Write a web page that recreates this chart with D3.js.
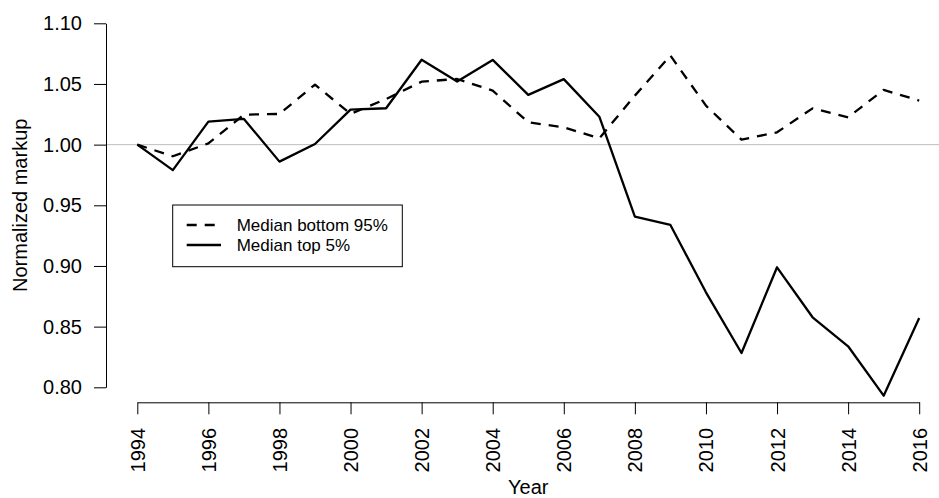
<!DOCTYPE html>
<html><head><meta charset="utf-8">
<script src="https://cdn.jsdelivr.net/npm/d3@7"></script>
<style>body{margin:0;background:#fff}svg{display:block;font-family:"Liberation Sans",Arial,sans-serif}</style>
</head><body>
<svg id="c" width="939" height="498"></svg>
<script>
const years = d3.range(1994, 2017);
const bottom95 = [1.000,0.9904,1.001,1.0247,1.0253,1.0495,1.0253,1.0376,1.0519,1.0541,1.0445,1.0184,1.0143,1.0052,1.0404,1.0734,1.0321,1.0041,1.0102,1.0299,1.0225,1.0451,1.0363];
const top5 = [1.000,0.979,1.019,1.0212,0.986,1.0005,1.0288,1.030,1.070,1.052,1.0698,1.041,1.054,1.023,0.9407,0.9338,0.8783,0.8283,0.8989,0.8577,0.8338,0.7931,0.8571];
const xTicks = d3.range(1994, 2017, 2);
const yTicks = [0.80,0.85,0.90,0.95,1.00,1.05,1.10];
const legendLabels = ["Median bottom 95%", "Median top 5%"];

const svg = d3.select("#c");
const x = d3.scaleLinear().domain([1994, 2016]).range([137.3, 919.2]);
const y = d3.scaleLinear().domain([0.80, 1.10]).range([387.3, 23.3]);

// reference line
svg.append("line").attr("x1", 106).attr("x2", 939).attr("y1", y(1)).attr("y2", y(1))
  .attr("stroke", "#bebebe").attr("stroke-width", 1);

// axes
const yAxis = d3.axisLeft(y).tickValues(yTicks).tickFormat(d3.format(".2f")).tickSize(12).tickSizeOuter(0).tickPadding(12);
const gy = svg.append("g").attr("transform", "translate(106,0)").call(yAxis);
gy.selectAll("text").attr("font-size", 20).attr("font-family", "Liberation Sans, Arial, sans-serif").attr("fill", "#000");
gy.selectAll("line,path").attr("stroke", "#000");

const xAxis = d3.axisBottom(x).tickValues(xTicks).tickFormat(d3.format("d")).tickSize(12).tickSizeOuter(0);
const gx = svg.append("g").attr("transform", "translate(0,402.3)").call(xAxis);
gx.selectAll("line,path").attr("stroke", "#000");
gx.selectAll("text").attr("font-size", 20).attr("font-family", "Liberation Sans, Arial, sans-serif").attr("fill", "#000")
  .attr("transform", "rotate(-90)").attr("text-anchor", "end")
  .attr("x", -25.7).attr("y", 0).attr("dy", "0.35em");

// axis titles
svg.append("text").attr("x", x(2005)).attr("y", 494).attr("text-anchor", "middle")
  .attr("font-size", 20).text("Year");
svg.append("text").attr("transform", `translate(26.5,${y(0.95)}) rotate(-90)`).attr("text-anchor", "middle")
  .attr("font-size", 20).text("Normalized markup");

// lines
const line = d3.line().x((d, i) => x(years[i])).y(d => y(d));
svg.append("path").datum(bottom95).attr("d", line).attr("fill", "none").attr("stroke", "#000")
  .attr("stroke-width", 2.3).attr("stroke-dasharray", "10,8").attr("stroke-linejoin", "round");
svg.append("path").datum(top5).attr("d", line).attr("fill", "none").attr("stroke", "#000")
  .attr("stroke-width", 2.3).attr("stroke-linejoin", "round");

// legend
const lg = svg.append("g");
lg.append("rect").attr("x", 172.7).attr("y", 205).attr("width", 229.6).attr("height", 61.7)
  .attr("fill", "#fff").attr("stroke", "#000").attr("stroke-width", 1);
const rows = [225, 245];
legendLabels.forEach((lab, i) => {
  lg.append("line").attr("x1", 186.7).attr("x2", 221).attr("y1", rows[i]).attr("y2", rows[i])
    .attr("stroke", "#000").attr("stroke-width", 2.3).attr("stroke-dasharray", i === 0 ? "10,8" : null);
  lg.append("text").attr("x", 236.7).attr("y", rows[i]).attr("dy", "0.35em").attr("font-size", 17).text(lab);
});
</script>
</body></html>
